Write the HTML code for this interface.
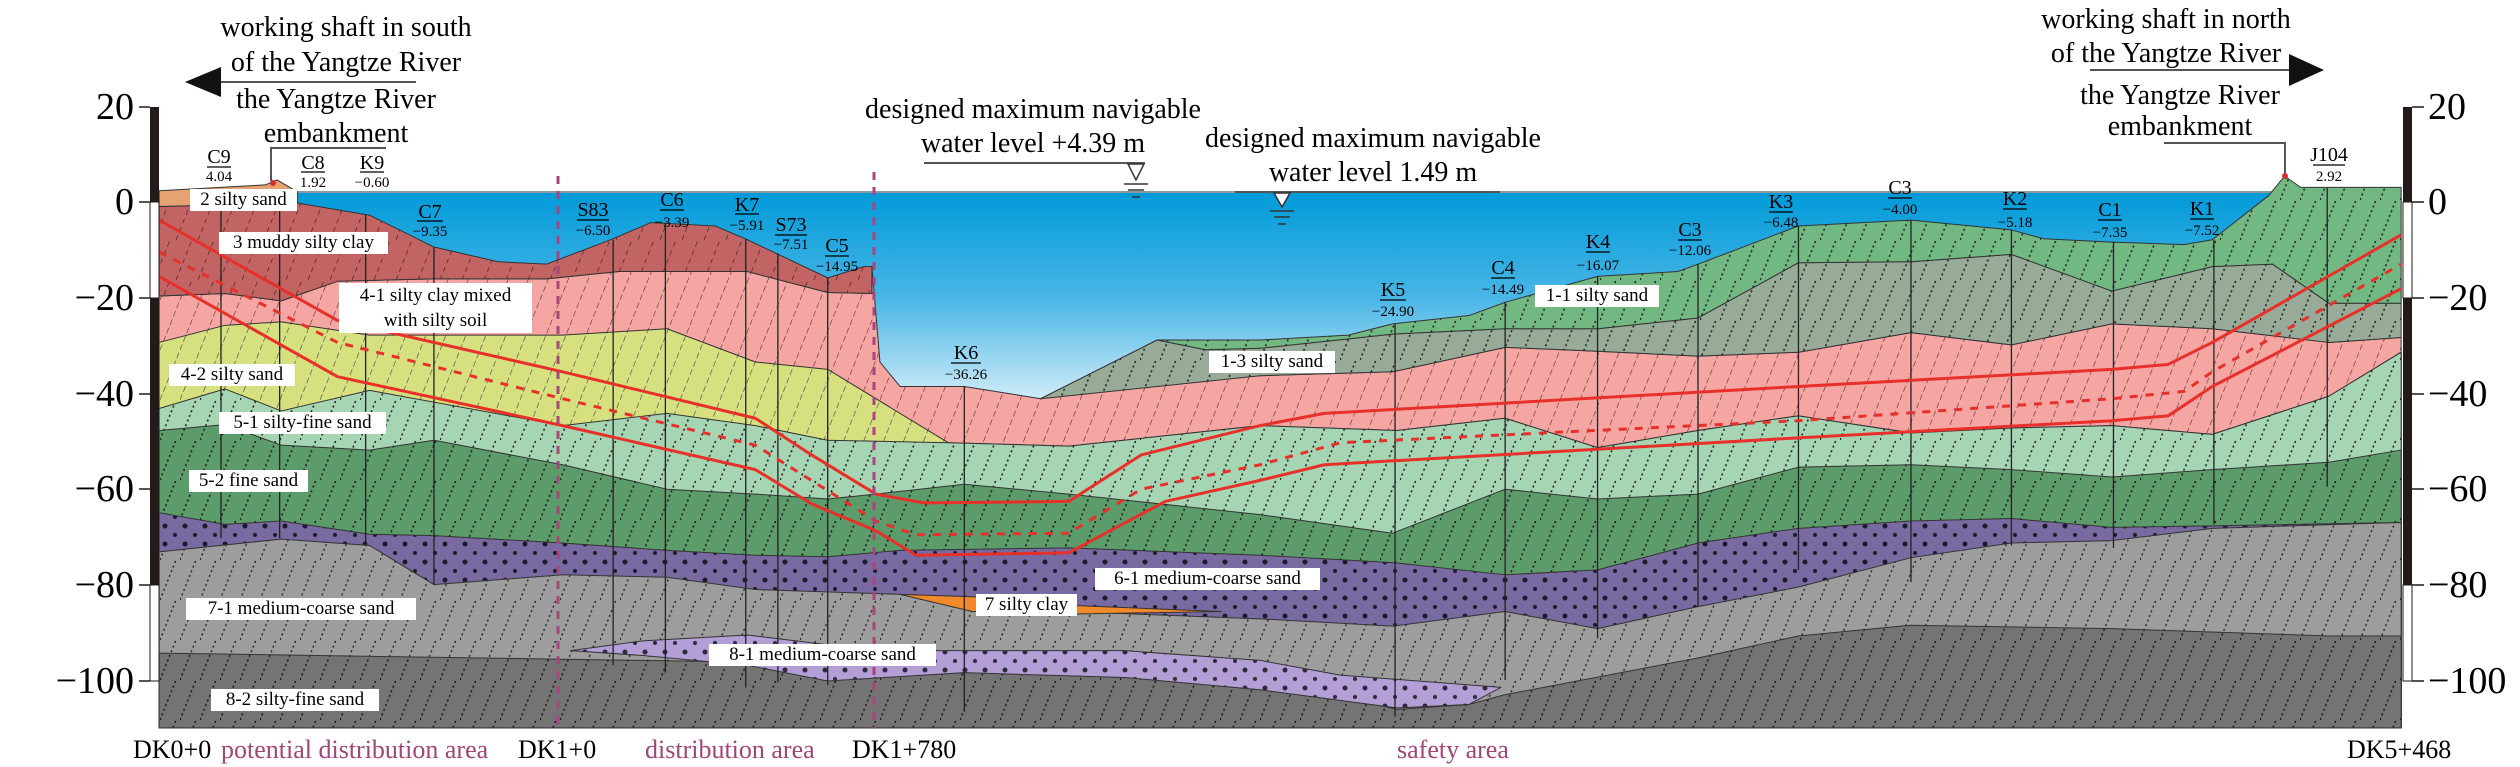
<!DOCTYPE html>
<html><head><meta charset="utf-8"><style>
body{margin:0;background:#fff;}
#c{position:relative;width:2520px;height:767px;overflow:hidden;background:#fff;font-family:"Liberation Serif",serif;}
.lb{position:absolute;background:#fff;font-size:19px;line-height:22px;text-align:center;color:#000;white-space:nowrap;}
</style></head><body><div id="c">
<svg width="2520" height="767" viewBox="0 0 2520 767" style="position:absolute;left:0;top:0">
<defs>
<linearGradient id="wg" x1="0" y1="0" x2="0" y2="1"><stop offset="0" stop-color="#009ad8"/><stop offset="0.5" stop-color="#49b6e6"/><stop offset="1" stop-color="#d6eef9"/></linearGradient>
<pattern id="p3" patternUnits="userSpaceOnUse" width="22" height="40" patternTransform="scale(1.2444,2.0442)"><rect width="22" height="40" fill="#c26464"/><path d="M0 40L16 0" stroke="#5a2a2a" stroke-width="0.8" stroke-dasharray="5 4"/></pattern>
<pattern id="p41" patternUnits="userSpaceOnUse" width="20" height="50" patternTransform="scale(1.2444,2.0442)"><rect width="20" height="50" fill="#f5a5a2"/><path d="M0 50L20 0" stroke="#6a4040" stroke-width="0.7" stroke-dasharray="6 3"/></pattern>
<pattern id="p42" patternUnits="userSpaceOnUse" width="20" height="50" patternTransform="scale(1.2444,2.0442)"><rect width="20" height="50" fill="#d7e07e"/><path d="M0 50L20 0" stroke="#555" stroke-width="0.7" stroke-dasharray="6 3"/></pattern>
<pattern id="p13" patternUnits="userSpaceOnUse" width="20" height="40" patternTransform="scale(1.2444,2.0442)"><rect width="20" height="40" fill="#98ab98"/><path d="M0 40L16 0" stroke="#222" stroke-width="1.6" stroke-dasharray="2 3"/></pattern>
<pattern id="p11" patternUnits="userSpaceOnUse" width="20" height="40" patternTransform="scale(1.2444,2.0442)"><rect width="20" height="40" fill="#72b882"/><path d="M0 40L16 0" stroke="#222" stroke-width="1.6" stroke-dasharray="2 3"/></pattern>
<pattern id="p51" patternUnits="userSpaceOnUse" width="20" height="40" patternTransform="scale(1.2444,2.0442)"><rect width="20" height="40" fill="#a6d5b3"/><path d="M0 40L16 0" stroke="#222" stroke-width="1.6" stroke-dasharray="2 3"/></pattern>
<pattern id="p52" patternUnits="userSpaceOnUse" width="20" height="40" patternTransform="scale(1.2444,2.0442)"><rect width="20" height="40" fill="#5c9c6a"/><path d="M0 40L16 0" stroke="#1a1a1a" stroke-width="1.6" stroke-dasharray="2 3"/></pattern>
<pattern id="p61" patternUnits="userSpaceOnUse" width="20" height="18" patternTransform="scale(1.2444,2.0442)"><rect width="20" height="18" fill="#7a6aa2"/><circle cx="5" cy="4" r="2.5" fill="#1a1a2a"/><circle cx="15" cy="13" r="2" fill="#1a1a2a"/></pattern>
<pattern id="p81" patternUnits="userSpaceOnUse" width="20" height="18" patternTransform="scale(1.2444,2.0442)"><rect width="20" height="18" fill="#b39ed6"/><circle cx="5" cy="4" r="2.5" fill="#2a2a3a"/><circle cx="15" cy="13" r="2" fill="#2a2a3a"/></pattern>
<pattern id="p71" patternUnits="userSpaceOnUse" width="20" height="40" patternTransform="scale(1.2444,2.0442)"><rect width="20" height="40" fill="#9d9d9d"/><path d="M0 40L16 0" stroke="#222" stroke-width="1.4" stroke-dasharray="2 3"/></pattern>
<pattern id="p82" patternUnits="userSpaceOnUse" width="20" height="40" patternTransform="scale(1.2444,2.0442)"><rect width="20" height="40" fill="#747474"/><path d="M0 40L16 0" stroke="#111" stroke-width="1.4" stroke-dasharray="2 3"/></pattern>
</defs>
<rect x="297" y="192" width="1990" height="212" fill="url(#wg)"/>
<line x1="297" y1="192" x2="2290" y2="192" stroke="#8a9aa0" stroke-width="2"/>
<g transform="scale(0.8036,0.4892)" stroke-linejoin="round">
<polygon fill="url(#p41)" stroke="#333" stroke-width="1" vector-effect="non-scaling-stroke" points="198,605 280,600 350,615 420,575 540,570 680,570 770,555 930,555 1030,598 1085,600 1085,545 1095,740 1120,790 1200,790 1295,815 1440,695 1500,715 1568,712 1568,768 1733,760 1873,710 1988,718 2113,728 2238,720 2378,680 2503,705 2628,662 2753,672 2898,700 2988,690 2988,1488 198,1488"/>
<polygon fill="url(#p42)" stroke="#333" stroke-width="1" vector-effect="non-scaling-stroke" points="198,700 280,665 350,658 460,685 700,685 830,672 940,740 1030,755 1180,905 1330,912 1568,870 1738,880 1873,855 1988,915 2113,880 2238,850 2378,885 2503,875 2628,870 2753,888 2898,810 2988,720 2988,1488 198,1488"/>
<polygon fill="url(#p51)" stroke="#333" stroke-width="1" vector-effect="non-scaling-stroke" points="198,835 280,795 350,840 460,798 700,870 830,845 940,870 1030,900 1180,905 1330,912 1568,870 1738,880 1873,855 1988,915 2113,880 2238,850 2378,885 2503,875 2628,870 2753,888 2898,810 2988,720 2988,1488 198,1488"/>
<polygon fill="url(#p52)" stroke="#333" stroke-width="1" vector-effect="non-scaling-stroke" points="198,880 280,868 350,910 460,920 540,900 700,950 830,1000 940,1010 1030,1020 1090,1010 1200,990 1330,1010 1568,1052 1733,1090 1873,1000 1988,1020 2113,1010 2238,955 2378,950 2503,960 2628,975 2753,960 2898,945 2988,920 2988,1488 198,1488"/>
<polygon fill="url(#p61)" stroke="#333" stroke-width="1" vector-effect="non-scaling-stroke" points="198,1048 280,1072 350,1065 460,1092 540,1095 700,1110 830,1125 940,1135 1030,1138 1120,1125 1330,1120 1568,1135 1733,1150 1873,1175 1988,1165 2113,1110 2238,1080 2378,1065 2503,1060 2628,1078 2753,1075 2988,1068 2988,1488 198,1488"/>
<polygon fill="url(#p71)" stroke="#333" stroke-width="1" vector-effect="non-scaling-stroke" points="198,1128 350,1102 460,1115 540,1195 700,1175 830,1180 940,1205 1120,1215 1330,1250 1568,1265 1733,1280 1873,1250 1988,1285 2113,1240 2238,1200 2378,1140 2503,1110 2628,1105 2753,1080 2988,1068 2988,1488 198,1488"/>
<polygon fill="url(#p82)" stroke="#333" stroke-width="1" vector-effect="non-scaling-stroke" points="198,1335 600,1345 1000,1355 1440,1335 1568,1360 1568,1380 1738,1450 1828,1440 1873,1420 2113,1345 2238,1300 2378,1278 2628,1285 2898,1300 2988,1300 2988,1488 198,1488"/>
<polygon fill="url(#p81)" stroke="#333" stroke-width="1" vector-effect="non-scaling-stroke" points="710,1330 800,1310 930,1298 1030,1318 1160,1330 1400,1330 1568,1350 1668,1380 1868,1405 1828,1440 1738,1447 1568,1410 1400,1385 1200,1375 1030,1392 930,1360 800,1340"/>
<polygon fill="#f08a2a" stroke="#333" stroke-width="1" vector-effect="non-scaling-stroke" points="1120,1215 1215,1220 1340,1238 1520,1250 1340,1255 1210,1250"/>
<polygon fill="url(#p3)" stroke="#333" stroke-width="1" vector-effect="non-scaling-stroke" points="198,422 370,415 460,440 540,505 620,535 680,540 760,490 810,455 890,462 930,490 1030,568 1075,545 1085,545 1085,600 1030,598 930,555 770,555 680,570 540,570 420,575 350,615 280,600 198,605"/>
<polygon fill="#e6a272" stroke="#333" stroke-width="1" vector-effect="non-scaling-stroke" points="198,390 330,378 345,368 370,392 370,415 198,422"/>
<polygon fill="url(#p13)" stroke="#333" stroke-width="1" vector-effect="non-scaling-stroke" points="1295,815 1440,695 1500,715 1568,712 1733,683 1873,672 1988,672 2113,650 2238,537 2378,535 2503,520 2628,595 2753,545 2828,540 2898,620 2988,620 2988,690 2898,700 2753,672 2628,662 2503,705 2378,680 2238,720 2113,728 1988,718 1873,710 1733,760 1568,768"/>
<polygon fill="url(#p11)" stroke="#333" stroke-width="1" vector-effect="non-scaling-stroke" points="1440,695 1568,695 1678,685 1733,662 1828,645 1873,618 1988,565 2088,555 2113,540 2238,462 2378,450 2503,470 2543,488 2628,495 2718,500 2753,490 2823,400 2843,360 2863,383 2988,383 2988,620 2898,620 2828,540 2753,545 2628,595 2503,520 2378,535 2238,537 2113,650 1988,672 1873,672 1733,683 1568,712 1500,715"/>
<g stroke="#222" stroke-width="1.3" fill="none">
<path vector-effect="non-scaling-stroke" d="M275 420V1100M348 418V1100M455 438V1110M540 505V1195M763 490V1360M828 456V1375M928 488V1405M968 518V1395M1030 568V1400M1200 790V1455M1736 662V1465M1873 618V1390M1988 565V1305M2113 540V1240M2238 462V1165M2378 450V1190M2503 470V1115M2630 495V1120M2755 490V1072M2896 383V995"/>
</g>
<g fill="none" stroke="#e8302a" stroke-width="3">
<polyline vector-effect="non-scaling-stroke" points="198,450 420,655 700,760 940,855 1010,930 1090,1010 1150,1028 1330,1025 1420,930 1568,870 1648,845 2238,790 2628,755 2698,745 2753,700 2988,480"/>
<polyline vector-effect="non-scaling-stroke" points="198,565 420,770 700,870 940,960 1010,1030 1090,1085 1140,1135 1330,1130 1450,1025 1568,982 1648,950 2238,895 2628,860 2698,850 2753,790 2988,590"/>
<polyline vector-effect="non-scaling-stroke" stroke-dasharray="8 8" points="198,515 420,700 700,815 940,910 1090,1065 1140,1093 1330,1090 1420,1000 1568,950 1668,905 2238,860 2628,815 2718,800 2753,760 2988,540"/>
</g>
</g>
<line x1="558" y1="176" x2="558" y2="728" stroke="#a8457f" stroke-width="3" stroke-dasharray="8 7"/>
<line x1="874" y1="172" x2="874" y2="728" stroke="#a8457f" stroke-width="3" stroke-dasharray="8 7"/>
<rect x="150" y="107" width="9" height="95" fill="#231a1a"/><rect x="150" y="202" width="9" height="96" fill="#fff" stroke="#231a1a" stroke-width="1"/><rect x="150" y="298" width="9" height="287" fill="#231a1a"/><rect x="150" y="585" width="9" height="96" fill="#fff" stroke="#231a1a" stroke-width="1"/>
<rect x="2403" y="107" width="9" height="95" fill="#231a1a"/><rect x="2403" y="202" width="9" height="96" fill="#fff" stroke="#231a1a" stroke-width="1"/><rect x="2403" y="298" width="9" height="287" fill="#231a1a"/><rect x="2403" y="585" width="9" height="96" fill="#fff" stroke="#231a1a" stroke-width="1"/>
<g stroke="#231a1a" stroke-width="1.5">
<path d="M139 107H150M139 202H150M139 298H150M139 394H150M139 489H150M139 585H150M139 681H150M2412 107H2424M2412 202H2424M2412 298H2424M2412 394H2424M2412 489H2424M2412 585H2424M2412 681H2424"/>
</g>
<g font-family="Liberation Serif,serif" font-size="38" text-anchor="end" dominant-baseline="central">
<text x="134" y="107">20</text><text x="134" y="202">0</text><text x="134" y="298">−20</text><text x="134" y="394">−40</text><text x="134" y="489">−60</text><text x="134" y="585">−80</text><text x="134" y="681">−100</text>
</g>
<g font-family="Liberation Serif,serif" font-size="38" text-anchor="start" dominant-baseline="central">
<text x="2428" y="107">20</text><text x="2428" y="202">0</text><text x="2428" y="298">−20</text><text x="2428" y="394">−40</text><text x="2428" y="489">−60</text><text x="2428" y="585">−80</text><text x="2428" y="681">−100</text>
</g>
<g font-family="Liberation Serif,serif" font-size="28" text-anchor="middle">
<text x="346" y="36">working shaft in south</text>
<text x="346" y="71">of the Yangtze River</text>
<text x="336" y="108">the Yangtze River</text>
<text x="336" y="142">embankment</text>
<text x="2166" y="28">working shaft in north</text>
<text x="2166" y="62">of the Yangtze River</text>
<text x="2180" y="104">the Yangtze River</text>
<text x="2180" y="135">embankment</text>
<text x="1033" y="118">designed maximum navigable</text>
<text x="1033" y="152">water level +4.39 m</text>
<text x="1373" y="147">designed maximum navigable</text>
<text x="1373" y="181">water level 1.49 m</text>
</g>
<g stroke="#555" stroke-width="2" fill="none">
<path d="M217 82H416"/><path d="M386 148H271V181"/>
<path d="M2090 70H2293"/><path d="M2164 143H2285V174"/>
<path d="M924 163H1145"/><path d="M1235 192H1500"/>
</g>
<polygon points="185,82 221,67 221,97" fill="#111"/>
<polygon points="2324,70 2289,54 2289,86" fill="#111"/>
<g stroke="#333" stroke-width="1.5" fill="#fff">
<polygon points="1128,164 1144,164 1136,180"/><path d="M1124 184H1148M1128 190H1144M1132 197H1140"/>
<polygon points="1274,193 1290,193 1282,207"/><path d="M1270 211H1294M1274 217H1290M1278 224H1286"/>
</g>
<circle cx="273" cy="183" r="3" fill="#d03030"/><circle cx="2285" cy="176" r="3" fill="#d03030"/>
<g font-family="Liberation Serif,serif" text-anchor="middle">
<g font-size="20">
<text x="219" y="163">C9</text><text x="313" y="169">C8</text><text x="372" y="169">K9</text><text x="430" y="218">C7</text><text x="593" y="216">S83</text><text x="672" y="206">C6</text><text x="747" y="211">K7</text><text x="791" y="231">S73</text><text x="837" y="252">C5</text><text x="966" y="359">K6</text>
<text x="1393" y="296">K5</text><text x="1503" y="274">C4</text><text x="1598" y="248">K4</text><text x="1690" y="236">C3</text><text x="1781" y="208">K3</text><text x="1900" y="194">C3</text><text x="2015" y="205">K2</text><text x="2110" y="216">C1</text><text x="2202" y="215">K1</text><text x="2329" y="161">J104</text>
</g>
<g font-size="15">
<text x="219" y="181">4.04</text><text x="313" y="187">1.92</text><text x="372" y="187">−0.60</text><text x="430" y="236">−9.35</text><text x="593" y="235">−6.50</text><text x="672" y="227">−3.39</text><text x="747" y="230">−5.91</text><text x="791" y="249">−7.51</text><text x="837" y="271">−14.95</text><text x="966" y="379">−36.26</text>
<text x="1393" y="316">−24.90</text><text x="1503" y="294">−14.49</text><text x="1598" y="270">−16.07</text><text x="1690" y="255">−12.06</text><text x="1781" y="227">−6.48</text><text x="1900" y="214">−4.00</text><text x="2015" y="227">−5.18</text><text x="2110" y="237">−7.35</text><text x="2202" y="235">−7.52</text><text x="2329" y="181">2.92</text>
</g>
</g>
<g stroke="#000" stroke-width="1.2">
<path d="M207 167H231M301 172H325M360 172H384M417 221H443M577 220H609M660 210H684M735 214H759M775 235H807M825 256H849M951 363H981M1380 300H1406M1491 278H1515M1586 252H1610M1678 240H1702M1769 212H1793M1888 198H1912M2003 209H2027M2098 220H2122M2190 219H2214M2313 165H2345"/>
</g>
<g font-family="Liberation Serif,serif" font-size="26">
<text x="133" y="758">DK0+0</text>
<text x="221" y="758" fill="#a0457a">potential distribution area</text>
<text x="518" y="758">DK1+0</text>
<text x="645" y="758" fill="#a0457a">distribution area</text>
<text x="852" y="758">DK1+780</text>
<text x="1397" y="758" fill="#a0457a">safety area</text>
<text x="2347" y="758">DK5+468</text>
</g>
</svg>
<div class="lb" style="left:190px;top:189px;width:107px">2 silty sand</div>
<div class="lb" style="left:219px;top:232px;width:169px">3 muddy silty clay</div>
<div class="lb" style="left:339px;top:283px;width:193px;line-height:25px">4-1 silty clay mixed<br>with silty soil</div>
<div class="lb" style="left:169px;top:364px;width:126px">4-2 silty sand</div>
<div class="lb" style="left:219px;top:412px;width:167px">5-1 silty-fine sand</div>
<div class="lb" style="left:189px;top:470px;width:119px">5-2 fine sand</div>
<div class="lb" style="left:186px;top:598px;width:230px">7-1 medium-coarse sand</div>
<div class="lb" style="left:211px;top:689px;width:168px">8-2 silty-fine sand</div>
<div class="lb" style="left:709px;top:644px;width:227px">8-1 medium-coarse sand</div>
<div class="lb" style="left:976px;top:594px;width:101px">7 silty clay</div>
<div class="lb" style="left:1095px;top:568px;width:225px">6-1 medium-coarse sand</div>
<div class="lb" style="left:1209px;top:351px;width:126px">1-3 silty sand</div>
<div class="lb" style="left:1535px;top:285px;width:124px">1-1 silty sand</div>
</div></body></html>
